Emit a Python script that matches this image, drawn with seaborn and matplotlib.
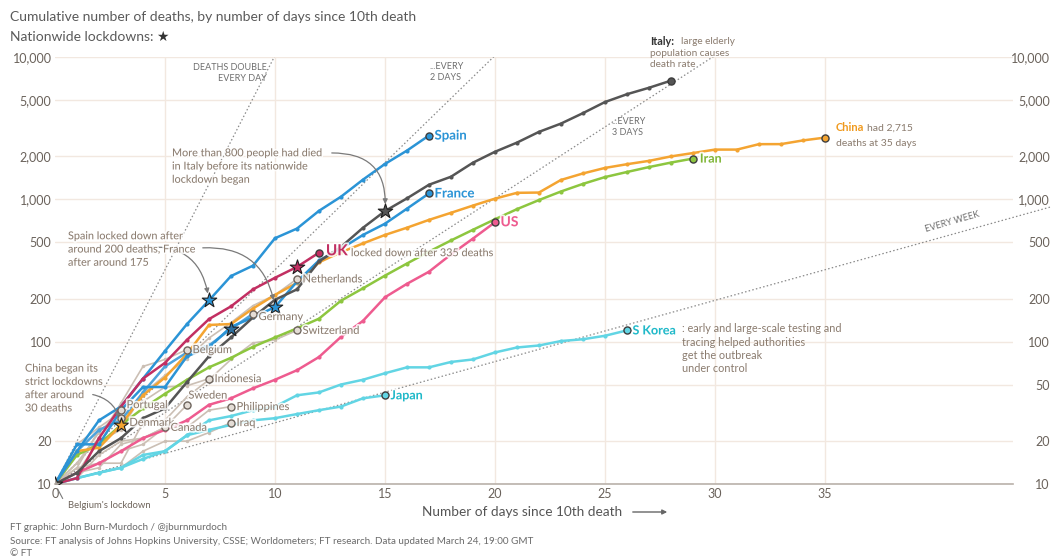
import numpy as np
import pandas as pd
import matplotlib
matplotlib.use('Agg')
import matplotlib.pyplot as plt
import matplotlib.ticker as mticker
import matplotlib.patheffects as pe
import seaborn as sns

# Cumulative deaths by day since 10th death
spain = [10, 17, 28, 35, 55, 86, 133, 195, 289, 342, 533, 623, 830, 1043, 1375, 1772, 2200, 2808]
france = [10, 19, 19, 33, 48, 48, 79, 91, 127, 148, 175, 264, 372, 450, 562, 674, 860, 1100]
italy = [10, 12, 17, 21, 29, 34, 52, 79, 107, 148, 197, 233, 366, 463, 631, 827, 1016, 1266,
         1441, 1809, 2158, 2503, 2978, 3405, 4032, 4825, 5476, 6077, 6820]
china = [10, 17, 18, 26, 42, 56, 82, 131, 133, 171, 213, 259, 361, 425, 490, 562, 632, 717, 804,
         904, 1011, 1111, 1116, 1368, 1520, 1662, 1765, 1863, 2002, 2114, 2236, 2236, 2441, 2443,
         2593, 2715]
iran = [10, 16, 19, 26, 34, 43, 54, 66, 77, 92, 107, 124, 145, 194, 237, 291, 354, 429, 514, 611,
        724, 853, 988, 1135, 1284, 1433, 1556, 1685, 1812, 1934]
us = [10, 12, 14, 17, 21, 24, 28, 36, 40, 47, 54, 63, 78, 108, 140, 205, 255, 310, 410, 530, 690]
uk = [10, 11, 21, 35, 55, 71, 103, 144, 177, 233, 281, 335, 422]
s_korea = [10, 11, 12, 13, 16, 17, 22, 28, 30, 33, 35, 42, 44, 50, 54, 60, 66, 66, 72, 75, 84,
           91, 94, 101, 104, 110, 120]
japan = [10, 11, 12, 13, 15, 17, 22, 24, 26, 28, 29, 31, 33, 35, 40, 42]
germany = [10, 17, 24, 28, 44, 67, 84, 94, 123, 157]

# grey countries
netherlands = [10, 12, 20, 24, 43, 58, 76, 106, 136, 179, 213, 276]
switzerland = [10, 13, 14, 14, 27, 28, 41, 54, 75, 98, 103, 120]
belgium = [10, 14, 21, 37, 67, 75, 88]
indonesia = [10, 19, 25, 32, 38, 48, 49, 55]
sweden = [10, 11, 16, 20, 21, 25, 36]
portugal = [10, 14, 23, 33]
denmark = [10, 13, 24, 29]
philippines = [10, 12, 14, 17, 19, 25, 25, 33, 35]
iraq = [10, 11, 12, 13, 17, 20, 20, 23, 27]
canada = [10, 12, 13, 19, 21, 25]

# nationwide lockdowns (country, day)
lockdown_country = ['Belgium', 'China', 'Spain', 'Germany', 'France', 'UK', 'Italy']
lockdown_day = [0, 3, 7, 8, 10, 11, 15]

doubling_days = [1, 2, 3, 7]
x_ticks = [0, 5, 10, 15, 20, 25, 30, 35]
y_ticks = [10, 20, 50, 100, 200, 500, 1000, 2000, 5000, 10000]
y_labels = ['10', '20', '50', '100', '200', '500', '1,000', '2,000', '5,000', '10,000']

grey_series = {'Netherlands': netherlands, 'Switzerland': switzerland, 'Belgium': belgium,
               'Indonesia': indonesia, 'Sweden': sweden, 'Portugal': portugal,
               'Denmark': denmark, 'Philippines': philippines, 'Iraq': iraq, 'Canada': canada}
color_series = {'S Korea': s_korea, 'Japan': japan, 'Germany': germany, 'Iran': iran, 'US': us,
                'China': china, 'France': france, 'Spain': spain, 'UK': uk, 'Italy': italy}

BLUE = '#2b94d6'
palette = {'S Korea': '#62d5e4', 'Japan': '#62d5e4', 'Germany': '#4fa3db', 'Iran': '#8dc63f',
           'US': '#ee5b8f', 'China': '#f4a431', 'France': BLUE, 'Spain': BLUE,
           'UK': '#c22f62', 'Italy': '#555555'}
GREY_LINE = '#cbbfb4'
TXT = '#6f655c'
BROWN = '#8a7b6e'
halo = [pe.withStroke(linewidth=2.5, foreground='white', alpha=0.85)]


def to_long(d):
    rows = []
    for name, vals in d.items():
        for day, v in enumerate(vals):
            rows.append((name, day, v))
    return pd.DataFrame(rows, columns=['country', 'day', 'deaths'])


df_grey = to_long(grey_series)
df_col = to_long(color_series)
all_series = {**grey_series, **color_series}

sns.set_style('white')
plt.rcParams['font.family'] = ['Lato', 'DejaVu Sans']

W, H = 1055, 558
fig = plt.figure(figsize=(W / 100, H / 100), dpi=100)
ax = fig.add_axes([55 / W, 1 - 484 / H, (1013 - 55) / W, (484 - 57) / H])


def fp(px, py):
    return (px / W, 1 - py / H)


ax.set_yscale('log')
ax.set_xlim(0, 43.55)
ax.set_ylim(10, 10000)

# doubling reference lines
for k in doubling_days:
    dd = np.linspace(0, 45.3 if k == 7 else 40, 300)
    ax.plot(dd, 10 * 2 ** (dd / k), ls=(0, (1.2, 1.8)), color='#8a8a8a', lw=0.9,
            zorder=1, clip_on=(k != 7))

sns.lineplot(data=df_grey, x='day', y='deaths', hue='country',
             palette={c: GREY_LINE for c in grey_series}, marker='o', markersize=2.5,
             markeredgewidth=0, linewidth=1.2, legend=False, errorbar=None, ax=ax, zorder=2)
sns.lineplot(data=df_col, x='day', y='deaths', hue='country', hue_order=list(color_series),
             palette=palette, marker='o', markersize=3, markeredgewidth=0, linewidth=1.8,
             legend=False, errorbar=None, ax=ax, zorder=3)

# end markers
for name, vals in all_series.items():
    if name in grey_series or name == 'Germany':
        fc, ec = '#e4ddd6', '#6e655d'
    else:
        fc, ec = palette[name], '#3d3d3d'
    ax.scatter([len(vals) - 1], [vals[-1]], s=26, facecolor=fc, edgecolor=ec,
               linewidth=1.0, zorder=5)

# lockdown stars
for name, d in zip(lockdown_country, lockdown_day):
    fc = palette.get(name, '#cfc6bd')
    if name == 'Belgium':
        fc = '#a9a29b'
    if name == 'Germany':
        fc = '#2e6f9e'
    ax.scatter([d], [all_series[name][d]], marker='*', s=120, facecolor=fc,
               edgecolor='#1e1e1e', linewidth=0.8, zorder=6)

# axes styling
ax.set_xticks(x_ticks)
ax.set_yticks(y_ticks)
# the China note covers the left-hand "50"
ax.set_yticklabels(['' if lab == '50' else lab for lab in y_labels])
ax.yaxis.set_minor_locator(mticker.NullLocator())
ax.grid(True, color='#f2e8e0', lw=1.0, zorder=0)
ax.set_axisbelow(True)
ax.get_xgridlines()[0].set_visible(False)
for s in ['top', 'right', 'left']:
    ax.spines[s].set_visible(False)
ax.spines['bottom'].set_color('#b9b1aa')
ax.spines['bottom'].set_linewidth(1.2)
ax.tick_params(axis='both', length=0, labelsize=9, labelcolor='#6a625b')
ax.tick_params(axis='y', pad=2.5)
ax.tick_params(axis='x', pad=3)
ax.set_xlabel('')
ax.set_ylabel('')

ax2 = ax.twinx()
ax2.set_yscale('log')
ax2.set_ylim(10, 10000)
ax2.set_yticks(y_ticks)
ax2.set_yticklabels(y_labels)
ax2.yaxis.set_minor_locator(mticker.NullLocator())
ax2.tick_params(axis='y', length=0, labelsize=9, labelcolor='#6a625b', pad=26.5)
for lab in ax2.get_yticklabels():
    lab.set_horizontalalignment('right')
for s in ax2.spines.values():
    s.set_visible(False)

# country labels at line ends
labels = [
    ('Spain', 'Spain', BLUE, 'bold', 9.5, (4, 0)),
    ('France', 'France', BLUE, 'bold', 9.5, (4, 0)),
    ('US', 'US', '#ee5b8f', 'bold', 10, (4, 0)),
    ('Iran', 'Iran', '#7fb536', 'bold', 9, (5, 0)),
    ('UK', 'UK', '#c22f62', 'bold', 11, (5, 1)),
    ('Japan', 'Japan', '#20b9c9', 'bold', 9, (4, 0)),
    ('S Korea', 'S Korea', '#20b9c9', 'bold', 9, (4, 0)),
    ('Netherlands', 'Netherlands', BROWN, 'normal', 8, (4, 0)),
    ('Germany', 'Germany', BROWN, 'normal', 8, (4, -2)),
    ('Switzerland', 'Switzerland', BROWN, 'normal', 8, (4, 0)),
    ('Belgium', 'Belgium', BROWN, 'normal', 8, (4, 0)),
    ('Indonesia', 'Indonesia', BROWN, 'normal', 8, (4, 0)),
    ('Sweden', 'Sweden', BROWN, 'normal', 8, (1, 7)),
    ('Portugal', 'Portugal', BROWN, 'normal', 8, (4, 4)),
    ('Denmark', 'Denmark', BROWN, 'normal', 8, (6, -3)),
    ('Philippines', 'Philippines', BROWN, 'normal', 8, (4, 0)),
    ('Iraq', 'Iraq', BROWN, 'normal', 8, (4, 0)),
    ('Canada', 'Canada', BROWN, 'normal', 8, (4, 0)),
]
for name, txt, col, wt, sz, off in labels:
    vals = all_series[name]
    ax.annotate(txt, xy=(len(vals) - 1, vals[-1]), xytext=off, textcoords='offset points',
                ha='left', va='center', color=col, fontweight=wt, fontsize=sz, zorder=7,
                path_effects=halo)

ax.annotate('locked down after 335 deaths', xy=(len(uk) - 1, uk[-1]), xytext=(23, 0),
            textcoords='offset points', ha='left', va='center', color=BROWN, fontsize=7.8,
            zorder=7, path_effects=halo)
ax.annotate(': early and large-scale testing and\ntracing helped authorities\nget the outbreak\nunder control',
            xy=(len(s_korea) - 1, s_korea[-1]), xytext=(40, 5), textcoords='offset points',
            ha='left', va='top', color=BROWN, fontsize=7.8, linespacing=1.25)
ax.annotate('China', xy=(len(china) - 1, china[-1]), xytext=(8, 7), textcoords='offset points',
            ha='left', va='center', color='#f09a1f', fontweight='bold', fontsize=8)
ax.annotate('had 2,715', xy=(len(china) - 1, china[-1]), xytext=(30, 7), textcoords='offset points',
            ha='left', va='center', color=BROWN, fontsize=7.5)
ax.annotate('deaths at 35 days', xy=(len(china) - 1, china[-1]), xytext=(8, -4.5),
            textcoords='offset points', ha='left', va='center', color=BROWN, fontsize=7.5)
ax.annotate('Italy:', xy=(len(italy) - 1, italy[-1]), xytext=(-15, 28), textcoords='offset points',
            ha='left', va='center', color='#333333', fontweight='bold', fontsize=7.8)
ax.annotate('large elderly', xy=(len(italy) - 1, italy[-1]), xytext=(7, 28), textcoords='offset points',
            ha='left', va='center', color=BROWN, fontsize=7.2)
ax.annotate('population causes\ndeath rate', xy=(len(italy) - 1, italy[-1]), xytext=(-15, 23),
            textcoords='offset points', ha='left', va='top', color=BROWN, fontsize=7.2, linespacing=1.3)

# doubling line captions
fig.text(*fp(267, 73), 'DEATHS DOUBLE\nEVERY DAY', ha='right', va='center', fontsize=6.5,
         color='#6e6e6e', linespacing=1.35)
fig.text(*fp(430, 72), '...EVERY\n2 DAYS', ha='left', va='center', fontsize=6.5,
         color='#6e6e6e', linespacing=1.35)
fig.text(*fp(612, 127), '...EVERY\n3 DAYS', ha='left', va='center', fontsize=6.5,
         color='#6e6e6e', linespacing=1.35)
fig.text(*fp(952, 234), 'EVERY WEEK', ha='center', va='bottom', fontsize=6.5,
         color='#6e6e6e', rotation=16)

# story annotations
arrow_kw = dict(arrowstyle='-|>', color='#7a7a7a', lw=0.9, mutation_scale=7, shrinkB=5)
fig.text(*fp(172, 166), 'More than 800 people had died\nin Italy before its nationwide\nlockdown began',
         ha='left', va='center', fontsize=7.8, color=BROWN, linespacing=1.25, path_effects=halo)
ax.annotate('', xy=(15, italy[15]), xytext=fp(329, 153), textcoords='figure fraction',
            arrowprops=dict(connectionstyle='arc3,rad=-0.55', **arrow_kw))
fig.text(*fp(68, 249), 'Spain locked down after\naround 200 deaths, France\nafter around 175',
         ha='left', va='center', fontsize=7.8, color=BROWN, linespacing=1.25, path_effects=halo)
ax.annotate('', xy=(7, spain[7]), xytext=fp(140, 248), textcoords='figure fraction',
            arrowprops=dict(connectionstyle='arc3,rad=-0.5', **arrow_kw))
ax.annotate('', xy=(10, france[10]), xytext=fp(200, 248), textcoords='figure fraction',
            arrowprops=dict(connectionstyle='arc3,rad=-0.45', **arrow_kw))
fig.text(*fp(25, 388), 'China began its\nstrict lockdowns\nafter around\n30 deaths',
         ha='left', va='center', fontsize=7.8, color=BROWN, linespacing=1.25, path_effects=halo)
ax.annotate('', xy=(3, china[3]), xytext=fp(90, 394), textcoords='figure fraction',
            arrowprops=dict(connectionstyle='arc3,rad=-0.35', **arrow_kw))
ax.annotate('', xy=(0, belgium[0]), xytext=fp(64, 501), textcoords='figure fraction',
            arrowprops=dict(arrowstyle='-', color='#7a7a7a', lw=0.8, shrinkB=4))
fig.text(*fp(68, 506), "Belgium's lockdown", ha='left', va='center', fontsize=6.8, color=TXT)

# titles
fig.text(*fp(10, 17), 'Cumulative number of deaths, by number of days since 10th death',
         ha='left', va='center', fontsize=10, color='#5a5a5a')
fig.text(*fp(10, 37), 'Nationwide lockdowns:', ha='left', va='center', fontsize=10, color='#5a5a5a')
fig.text(*fp(156, 37), '\u2605', ha='left', va='center', fontsize=10, color='#333333',
         family=['DejaVu Sans'])

# x axis caption with arrow
fig.text(*fp(522, 512), 'Number of days since 10th death', ha='center', va='center',
         fontsize=9.8, color='#555555')
fig.add_artist(matplotlib.patches.FancyArrowPatch(fp(630, 512), fp(670, 512),
                                                  transform=fig.transFigure,
                                                  arrowstyle='-|>', mutation_scale=7,
                                                  color='#666666', lw=1.0))

# footer
fig.text(*fp(10, 528), 'FT graphic: John Burn-Murdoch / @jburnmurdoch', ha='left', va='center',
         fontsize=7.1, color='#6a6a6a')
fig.text(*fp(10, 541), 'Source: FT analysis of Johns Hopkins University, CSSE; Worldometers; FT research. '
         'Data updated March 24, 19:00 GMT', ha='left', va='center', fontsize=7.1, color='#6a6a6a')
fig.text(*fp(10, 553), '\u00a9 FT', ha='left', va='center', fontsize=7.1, color='#6a6a6a')

fig.savefig('out.png', dpi=100, facecolor='white')
